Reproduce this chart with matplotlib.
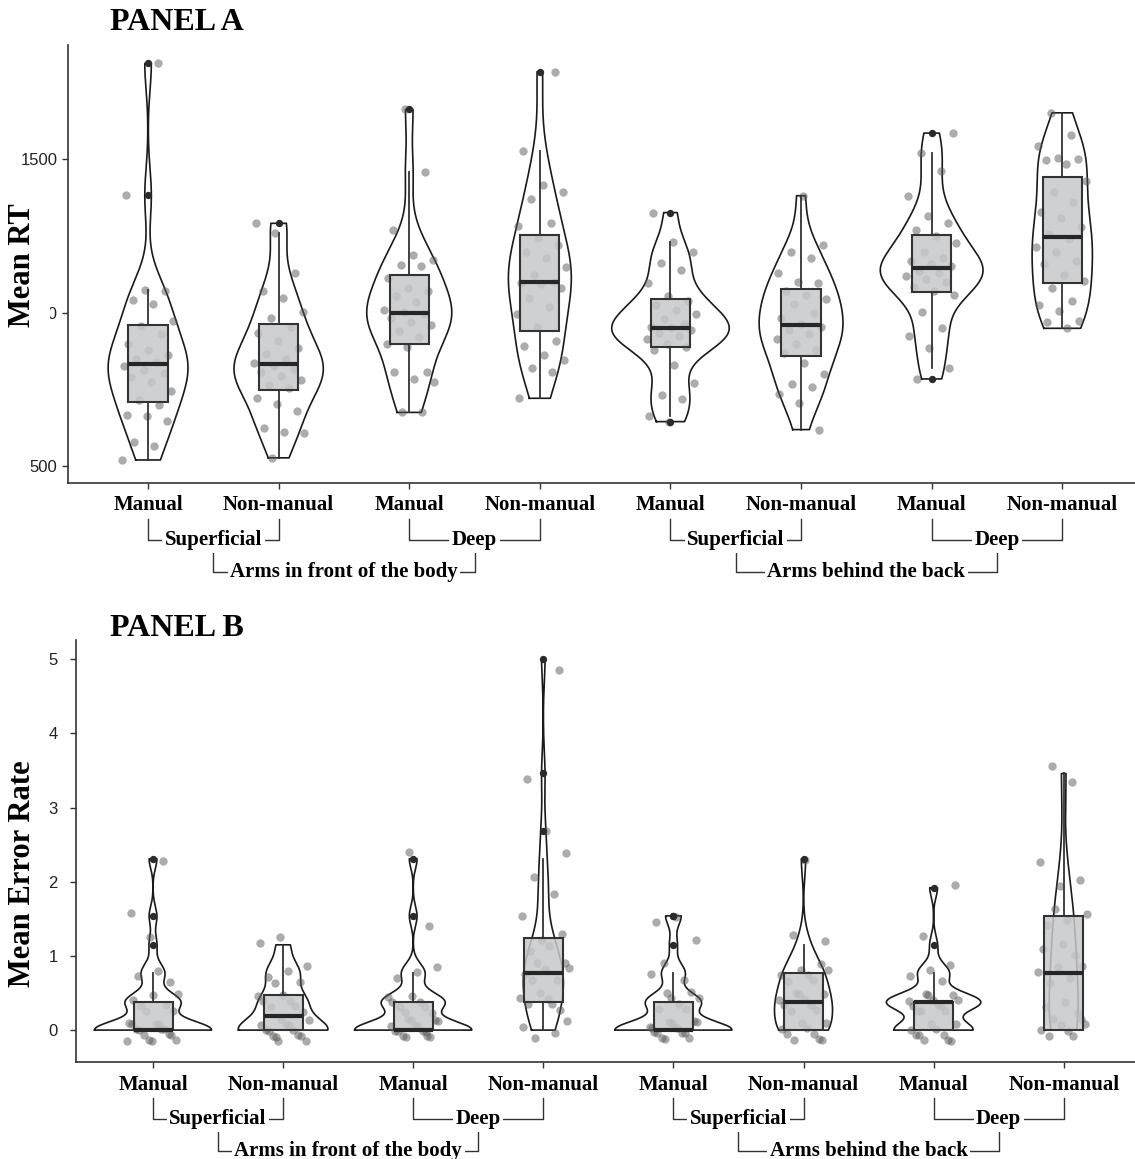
import numpy as np
import matplotlib
matplotlib.use("Agg")
import matplotlib.pyplot as plt
import matplotlib.transforms as mtransforms
from matplotlib.patches import Rectangle

# categories (left to right)
labels = ["Manual", "Non-manual"] * 4
depth = ["Superficial", "Deep", "Superficial", "Deep"]
posture = ["Arms in front of the body", "Arms behind the back"]

# PANEL A - mean RT per participant (ms)
rt_man_sup_front = [521, 565, 578, 648, 664, 668, 700, 715, 745, 775, 790, 803, 815, 826,
                    840, 850, 862, 878, 900, 930, 957, 975, 1028, 1042, 1070, 1074, 1384, 1813]
rt_nman_sup_front = [528, 609, 612, 626, 679, 704, 723, 757, 765, 780, 795, 808, 818, 828,
                     838, 850, 865, 885, 910, 935, 955, 985, 1004, 1048, 1072, 1129, 1262, 1292]
rt_man_deep_front = [676, 678, 776, 784, 808, 809, 890, 900, 923, 940, 960, 972, 985, 995,
                     1003, 1010, 1037, 1056, 1070, 1082, 1115, 1152, 1157, 1173, 1189, 1270, 1460, 1663]
rt_nman_deep_front = [722, 809, 822, 847, 863, 892, 909, 953, 995, 1021, 1050, 1080, 1095, 1098,
                      1102, 1124, 1150, 1178, 1200, 1220, 1245, 1282, 1294, 1371, 1395, 1417, 1528, 1786]
rt_man_sup_back = [646, 664, 719, 733, 773, 829, 880, 890, 900, 915, 925, 935, 945, 950,
                   954, 965, 980, 995, 1010, 1025, 1040, 1056, 1097, 1140, 1162, 1200, 1232, 1327]
rt_nman_sup_back = [620, 706, 736, 758, 770, 800, 836, 868, 880, 900, 914, 930, 945, 955,
                    965, 985, 1000, 1029, 1045, 1060, 1070, 1098, 1102, 1129, 1179, 1200, 1221, 1382]
rt_man_deep_back = [785, 820, 887, 925, 952, 1004, 1058, 1073, 1085, 1100, 1112, 1122, 1130, 1138,
                    1152, 1158, 1168, 1180, 1200, 1228, 1250, 1270, 1294, 1316, 1381, 1463, 1520, 1586]
rt_nman_deep_back = [950, 969, 975, 1008, 1026, 1039, 1080, 1105, 1125, 1160, 1170, 1200, 1216, 1240,
                     1258, 1280, 1308, 1330, 1360, 1395, 1430, 1485, 1498, 1502, 1505, 1545, 1580, 1652]

# PANEL B - mean error rate per participant
err_man_sup_front = [0, 0, 0, 0, 0, 0, 0, 0, 0, 0, 0, 0, 0, 0, 0, 0.38, 0.38, 0.38, 0.38, 0.38,
                     0.38, 0.38, 0.77, 0.77, 0.77, 1.15, 1.54, 2.31]
err_nman_sup_front = [0, 0, 0, 0, 0, 0, 0, 0, 0, 0, 0, 0, 0, 0, 0.38, 0.38, 0.38, 0.38, 0.38,
                      0.38, 0.38, 0.77, 0.77, 0.77, 0.77, 0.77, 1.15, 1.15]
err_man_deep_front = [0, 0, 0, 0, 0, 0, 0, 0, 0, 0, 0, 0, 0, 0, 0, 0.38, 0.38, 0.38, 0.38, 0.38,
                      0.38, 0.38, 0.38, 0.77, 0.77, 0.77, 1.54, 2.31]
err_nman_deep_front = [0, 0, 0, 0, 0.38, 0.38, 0.38, 0.38, 0.38, 0.38, 0.77, 0.77, 0.77, 0.77,
                       0.77, 0.77, 0.77, 1.15, 1.15, 1.15, 1.15, 1.54, 1.92, 1.92, 2.31, 2.69, 3.46, 5.0]
err_man_sup_back = [0, 0, 0, 0, 0, 0, 0, 0, 0, 0, 0, 0, 0, 0, 0, 0.38, 0.38, 0.38, 0.38, 0.38,
                    0.38, 0.38, 0.77, 0.77, 0.77, 1.15, 1.54, 1.54]
err_nman_sup_back = [0, 0, 0, 0, 0, 0, 0, 0, 0, 0.38, 0.38, 0.38, 0.38, 0.38, 0.38, 0.38, 0.38,
                     0.38, 0.77, 0.77, 0.77, 0.77, 0.77, 0.77, 0.77, 1.15, 1.15, 2.31]
err_man_deep_back = [0, 0, 0, 0, 0, 0, 0, 0, 0, 0, 0.38, 0.38, 0.38, 0.38, 0.38, 0.38, 0.38, 0.38,
                     0.38, 0.38, 0.38, 0.38, 0.77, 0.77, 0.77, 0.77, 1.15, 1.92]
err_nman_deep_back = [0, 0, 0, 0, 0, 0, 0, 0, 0.38, 0.38, 0.38, 0.77, 0.77, 0.77, 0.77, 0.77,
                      1.15, 1.15, 1.15, 1.54, 1.54, 1.54, 1.54, 1.92, 1.92, 2.31, 3.46, 3.46]

rt_groups = [rt_man_sup_front, rt_nman_sup_front, rt_man_deep_front, rt_nman_deep_front,
             rt_man_sup_back, rt_nman_sup_back, rt_man_deep_back, rt_nman_deep_back]
err_groups = [err_man_sup_front, err_nman_sup_front, err_man_deep_front, err_nman_deep_front,
              err_man_sup_back, err_nman_sup_back, err_man_deep_back, err_nman_deep_back]

SERIF = "Liberation Serif"
SANS = "Liberation Sans"
W, H = 1135, 1159
fig = plt.figure(figsize=(W / 100, H / 100), dpi=100)


def nrd0(x):
    # same rule as R's bw.nrd0 (what ggplot uses)
    sd = x.std(ddof=1)
    q1, q3 = np.percentile(x, [25, 75])
    lo = min(sd, (q3 - q1) / 1.34)
    if lo <= 0:
        lo = sd if sd > 0 else 1.0
    return 0.9 * lo * len(x) ** -0.2


def kde(x, grid):
    bw = nrd0(x)
    z = (grid[:, None] - x[None, :]) / bw
    return np.exp(-0.5 * z ** 2).sum(axis=1) / (len(x) * bw * np.sqrt(2 * np.pi))


def draw_panel(ax, groups, yjit):
    grids, dens = [], []
    for g in groups:
        v = np.asarray(g, float)
        grid = np.linspace(v.min(), v.max(), 512)
        grids.append(grid)
        dens.append(kde(v, grid))
    dmax = max(d.max() for d in dens)   # scale = "area"

    for i, g in enumerate(groups):
        pos = i + 1
        vals = np.asarray(g, float)
        w = 0.45 * dens[i] / dmax
        grid = grids[i]
        xs = np.concatenate([pos - w, (pos + w)[::-1], [pos - w[0]]])
        ys = np.concatenate([grid, grid[::-1], [grid[0]]])
        ax.plot(xs, ys, color="#1a1a1a", lw=1.2, zorder=1)

        # jitter (deterministic low-discrepancy offsets)
        k = np.arange(len(vals))
        dx = (((k * 0.618034 + i * 0.37) % 1) * 2 - 1) * 0.2
        dy = (((k * 0.754878 + i * 0.21) % 1) * 2 - 1) * yjit
        ax.scatter(pos + dx, vals + dy, s=36, color="#5a5a5a", alpha=0.5, lw=0, zorder=2)

        q1, med, q3 = np.percentile(vals, [25, 50, 75])
        iqr = q3 - q1
        lo = vals[vals >= q1 - 1.5 * iqr].min()
        hi = vals[vals <= q3 + 1.5 * iqr].max()
        out = vals[(vals < lo) | (vals > hi)]
        ax.plot([pos, pos], [q3, hi], color="#333333", lw=1.3, zorder=3)
        ax.plot([pos, pos], [lo, q1], color="#333333", lw=1.3, zorder=3)
        ax.add_patch(Rectangle((pos - 0.15, q1), 0.3, iqr, facecolor=(0.78, 0.785, 0.795),
                               alpha=0.85, edgecolor="none", zorder=3))
        ax.add_patch(Rectangle((pos - 0.15, q1), 0.3, iqr, facecolor="none",
                               edgecolor="#333333", lw=1.5, zorder=4))
        ax.plot([pos - 0.15, pos + 0.15], [med, med], color="#262626", lw=3, zorder=4,
                solid_capstyle="butt")
        ax.scatter(np.full(len(out), pos), out, s=28, color="#2b2b2b", lw=0, zorder=5)


def style_axes(ax, ypad):
    for s in ["top", "right"]:
        ax.spines[s].set_visible(False)
    for s in ["left", "bottom"]:
        ax.spines[s].set_color("#333333")
        ax.spines[s].set_linewidth(1.2)
    ax.tick_params(axis="both", length=4, width=1, color="#333333")
    ax.set_xticks(range(1, 9))
    ax.set_xticklabels(labels, fontfamily=SERIF, fontweight="bold", fontsize=15)
    ax.tick_params(axis="x", pad=5)
    ax.tick_params(axis="y", pad=ypad)
    for t in ax.get_yticklabels():
        t.set_fontfamily(SANS)
        t.set_fontsize(12)
        t.set_color("#222222")


def brackets(ax):
    trans = mtransforms.blended_transform_factory(ax.transData, ax.transAxes)
    hpx = ax.get_position().height * H

    def f(px):
        return -px / hpx

    kw = dict(color="#333333", lw=1, transform=trans, clip_on=False)
    tkw = dict(fontfamily=SERIF, fontweight="bold", fontsize=15, ha="center", va="center",
               transform=trans, bbox=dict(boxstyle="square,pad=0.12", fc="white", ec="none"))
    for j, lab in enumerate(depth):
        a, b = 2 * j + 1, 2 * j + 2
        y0, y1 = f(36), f(57)
        ax.plot([a, a, b, b], [y0, y1, y1, y0], **kw)
        ax.text((a + b) / 2, y1, lab, **tkw)
    for j, lab in enumerate(posture):
        a, b = 4 * j + 1.5, 4 * j + 3.5
        y0, y1 = f(70), f(89)
        ax.plot([a, a, b, b], [y0, y1, y1, y0], **kw)
        ax.text((a + b) / 2, y1, lab, **tkw)


# ---- PANEL A ----
axA = fig.add_axes([68 / W, (H - 483) / H, (W - 68) / W, 438 / H])
draw_panel(axA, rt_groups, 0)
axA.set_xlim(0.387, 8.557)
axA.set_ylim(446, 1873)
axA.set_yticks([500, 1000, 1500])
style_axes(axA, 3.5)
brackets(axA)

# ---- PANEL B ----
axB = fig.add_axes([76 / W, (H - 1062) / H, (W - 76) / W, 422 / H])
draw_panel(axB, err_groups, 0.15)
axB.set_xlim(0.408, 8.548)
axB.set_ylim(-0.43, 5.26)
axB.set_yticks([0, 1, 2, 3, 4, 5])
style_axes(axB, 9)
brackets(axB)

tt = dict(fontfamily=SERIF, fontweight="bold", fontsize=23, va="center", ha="left")
fig.text(110 / W, 1 - 23 / H, "PANEL A", **tt)
fig.text(110 / W, 1 - 629 / H, "PANEL B", **tt)

yl = dict(fontfamily=SERIF, fontweight="bold", fontsize=22, rotation=90, ha="center",
          va="center", bbox=dict(boxstyle="square,pad=0.4", fc="white", ec="none"))
fig.text(23 / W, 1 - 265 / H, "Mean RT", **yl)
fig.text(23 / W, 1 - 874 / H, "Mean Error Rate", **yl)

fig.savefig("out.png", dpi=100, facecolor="white")
